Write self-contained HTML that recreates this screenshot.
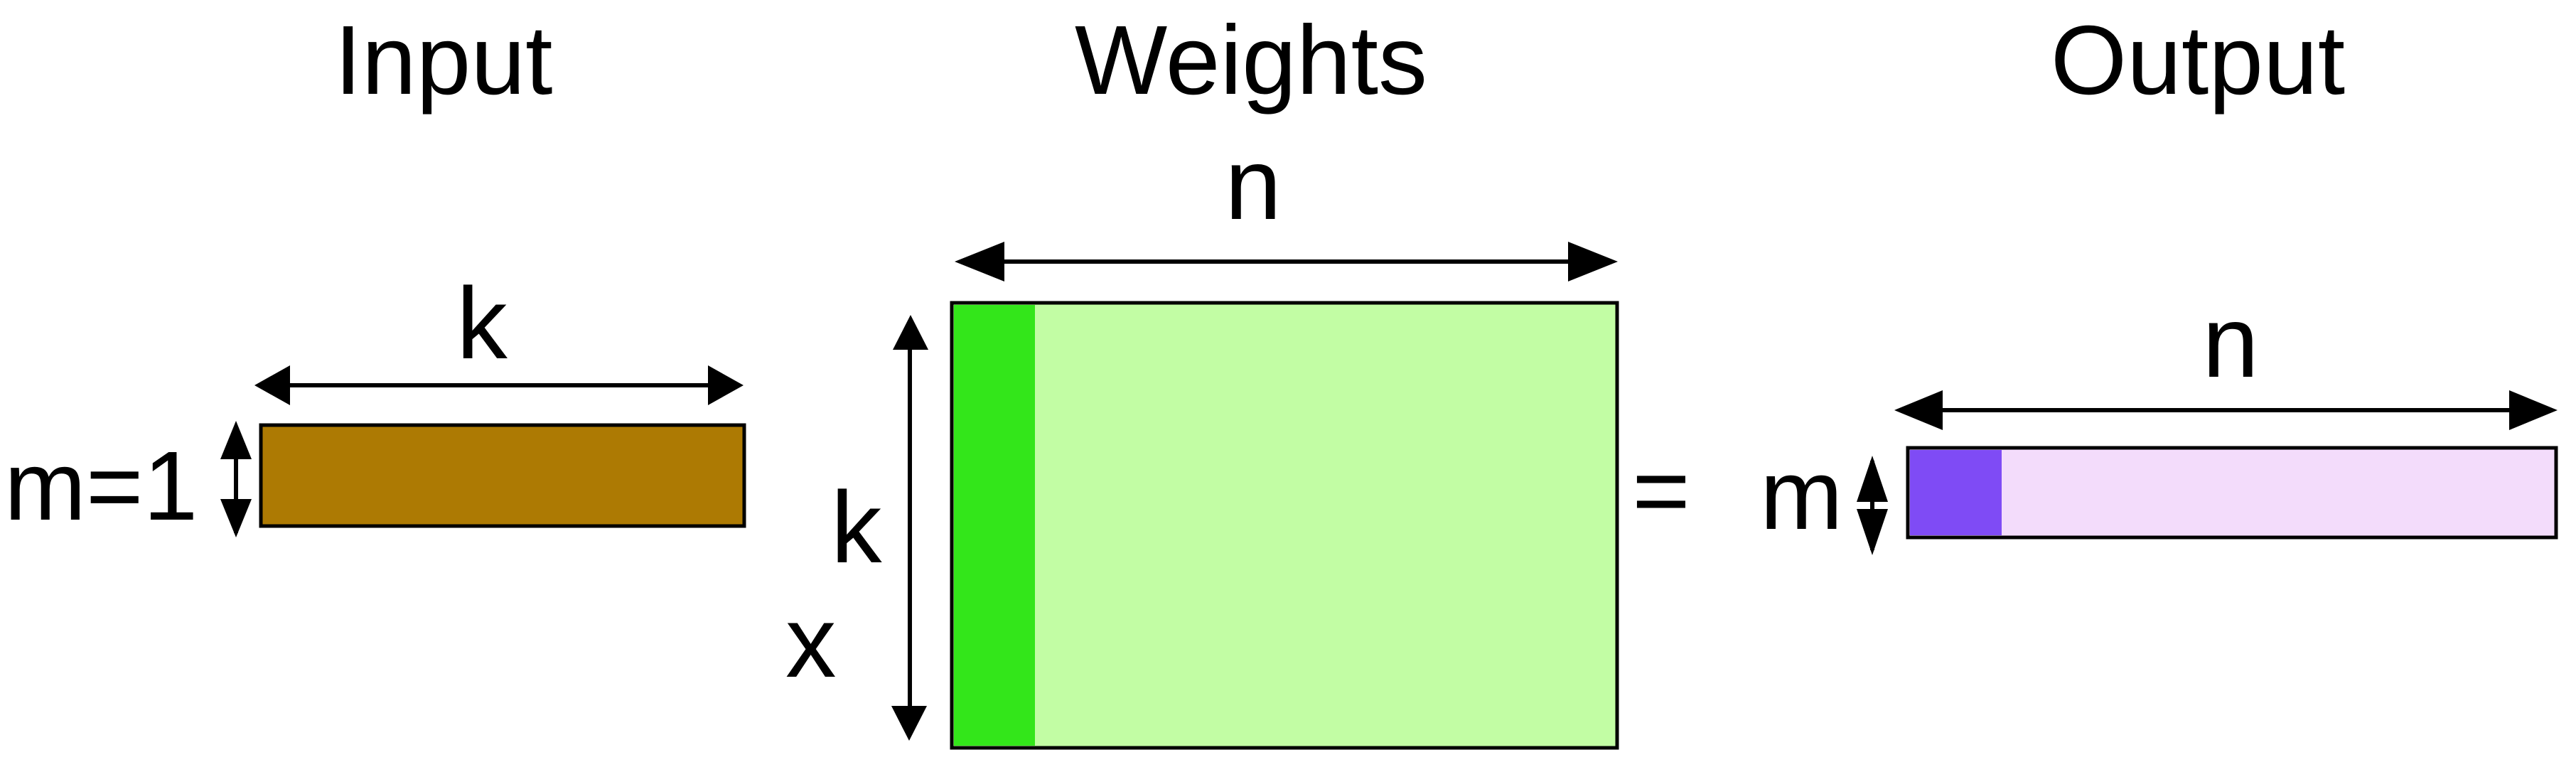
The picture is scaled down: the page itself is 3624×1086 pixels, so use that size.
<!DOCTYPE html>
<html><head><meta charset="utf-8"><style>html,body{margin:0;padding:0;background:#fff;}svg{display:block;}text{font-family:"Liberation Sans",Arial,sans-serif;fill:#000;}</style></head>
<body>
<svg width="3624" height="1086" viewBox="0 0 3624 1086">
<style>.a{stroke:#000;stroke-width:6;}</style>
<!-- titles -->
<text x="624" y="132" font-size="138" text-anchor="middle">Input</text>
<text x="1760" y="132" font-size="138" text-anchor="middle">Weights</text>
<text x="3092" y="132" font-size="138" text-anchor="middle">Output</text>

<!-- input -->
<text x="678" y="504" font-size="143" text-anchor="middle">k</text>
<g>
<line x1="370" y1="542" x2="1040" y2="542" class="a"/>
<polygon points="358,542 408,514 408,570" fill="#000"/><polygon points="1046,542 996,514 996,570" fill="#000"/>
</g>
<rect x="367" y="598" width="680" height="142" fill="#ad7a03" stroke="#000" stroke-width="5"/>
<text x="6" y="731" font-size="138">m=1</text>
<g>
<line x1="332" y1="600" x2="332" y2="750" class="a"/>
<polygon points="332,592 310,646 354,646" fill="#000"/><polygon points="332,756 310,702 354,702" fill="#000"/>
</g>

<!-- weights -->
<text x="1169" y="791" font-size="143">k</text>
<text x="1105" y="952" font-size="143">x</text>
<g>
<line x1="1280" y1="455" x2="1280" y2="1030" class="a"/>
<polygon points="1281,443 1256,492 1306,492" fill="#000"/><polygon points="1279,1042 1254,993 1304,993" fill="#000"/>
</g>
<text x="1763" y="308" font-size="143" text-anchor="middle">n</text>
<g>
<line x1="1355" y1="368" x2="2265" y2="368" class="a"/>
<polygon points="1343,368 1413,340 1413,396" fill="#000"/><polygon points="2276,368 2206,340 2206,396" fill="#000"/>
</g>
<rect x="1339" y="426" width="936" height="626" fill="#c2fda4" stroke="#000" stroke-width="5"/>
<rect x="1342" y="429" width="114" height="620" fill="#33e61a"/>
<text x="2337" y="738" font-size="140" text-anchor="middle">=</text>

<!-- output -->
<text x="3138" y="530" font-size="143" text-anchor="middle">n</text>
<g>
<line x1="2680" y1="577" x2="3585" y2="577" class="a"/>
<polygon points="2665,577 2733,549 2733,605" fill="#000"/><polygon points="3598,577 3530,549 3530,605" fill="#000"/>
</g>
<rect x="2684" y="630" width="912" height="126" fill="#f3dcfb" stroke="#000" stroke-width="5"/>
<rect x="2687" y="633" width="129" height="120" fill="#7f4bf5"/>
<text x="2476" y="744" font-size="140">m</text>
<g>
<line x1="2634" y1="648" x2="2634" y2="774" class="a"/>
<polygon points="2634,641 2612,706 2656,706" fill="#000"/><polygon points="2634,781 2612,716 2656,716" fill="#000"/>
</g>
</svg>
</body></html>
